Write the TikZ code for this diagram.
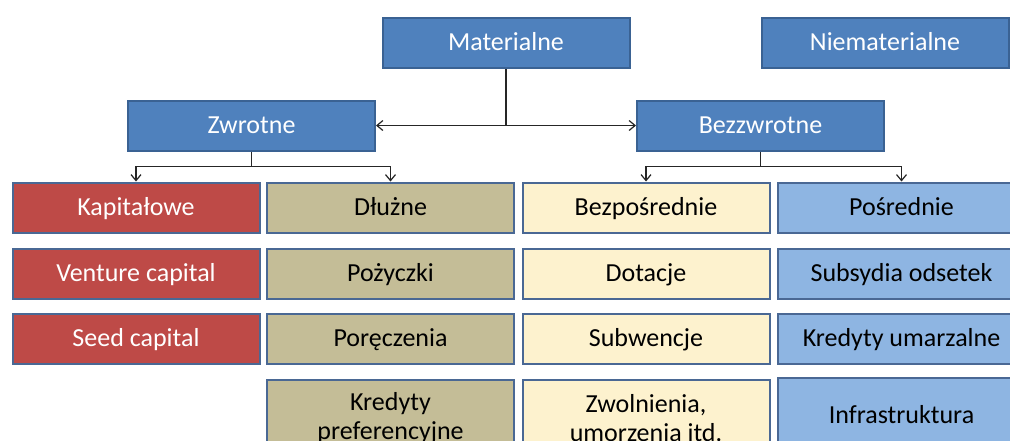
\documentclass[tikz,border=0pt]{standalone}
\usepackage{fontspec}
\setmainfont{Carlito}
\usetikzlibrary{arrows.meta}
\definecolor{hblue}{HTML}{4F81BD}
\definecolor{hborder}{HTML}{3A6293}
\definecolor{cred}{HTML}{BE4A47}
\definecolor{ctan}{HTML}{C4BD97}
\definecolor{cyel}{HTML}{FDF2CE}
\definecolor{clblue}{HTML}{8EB5E2}
\definecolor{rborder}{HTML}{4A6894}
\tikzset{
  box/.style={draw=#1, line width=2pt, minimum width=247pt, inner sep=0pt, align=center, font=\fontsize{26}{29}\selectfont},
  one/.style={text height=19pt, text depth=4pt},
  head/.style={box=hborder, fill=hblue, text=white, minimum height=50pt, one},
  redbox/.style={box=rborder, fill=cred, text=white, minimum height=50pt, one},
  tanbox/.style={box=rborder, fill=ctan, text=black, minimum height=50pt},
  yelbox/.style={box=rborder, fill=cyel, text=black, minimum height=50pt},
  lbbox/.style={box=rborder, fill=clblue, text=black, minimum height=50pt},
  conn/.style={draw=black!85, line width=1.2pt},
  arr/.style={conn, -{Straight Barb[length=6pt,width=10pt]}}
}
\begin{document}
\begin{tikzpicture}[x=1pt,y=-1pt]
\useasboundingbox (0,0) rectangle (1010,440);
\fill[white] (0,0) rectangle (1010,440);
% header
\node[head] (mat) at (506,43) {Materialne};
\node[head] (niemat) at (885,43) {Niematerialne};
\node[head] (zw) at (251.5,125.5) {Zwrotne};
\node[head] (bzw) at (760.5,125.5) {Bezzwrotne};
% rows
\node[redbox] (kap) at (136,207.5) {Kapitałowe};
\node[tanbox, one] (dl) at (390.5,207.5) {Dłużne};
\node[yelbox, one] (bezp) at (646,207.5) {Bezpośrednie};
\node[lbbox, one] (posr) at (901.5,207.5) {Pośrednie};
\node[redbox] (vc) at (136,273.5) {Venture capital};
\node[tanbox, one] (poz) at (390.5,273.5) {Pożyczki};
\node[yelbox, one] (dot) at (646,273.5) {Dotacje};
\node[lbbox, one] (sub) at (901.5,273.5) {Subsydia odsetek};
\node[redbox] (seed) at (136,339) {Seed capital};
\node[tanbox, one] (por) at (390.5,339) {Poręczenia};
\node[yelbox, one] (subw) at (646,339) {Subwencje};
\node[lbbox, one] (kum) at (901.5,339) {Kredyty umarzalne};
\node[tanbox, minimum height=76pt] (kp) at (390.5,418) {Kredyty\\preferencyjne};
\node[yelbox, minimum height=76pt] (zwol) at (646,418) {Zwolnienia,\\umorzenia itd.};
\node[lbbox, one, minimum height=76pt] (infra) at (901.5,416) {Infrastruktura};
% connectors
\coordinate (mj) at (mat.south |- zw.east);
\draw[conn] (mat.south) -- (mj);
\draw[arr] (mj) -- (zw.east);
\draw[arr] (mj) -- (bzw.west);
\coordinate (zj) at ([yshift=-15pt]zw.south);
\draw[conn] (zw.south) -- (zj);
\draw[arr] (zj) -| (kap.north);
\draw[arr] (zj) -| (dl.north);
\coordinate (bj) at ([yshift=-15pt]bzw.south);
\draw[conn] (bzw.south) -- (bj);
\draw[arr] (bj) -| (bezp.north);
\draw[arr] (bj) -| (posr.north);
\end{tikzpicture}
\end{document}
